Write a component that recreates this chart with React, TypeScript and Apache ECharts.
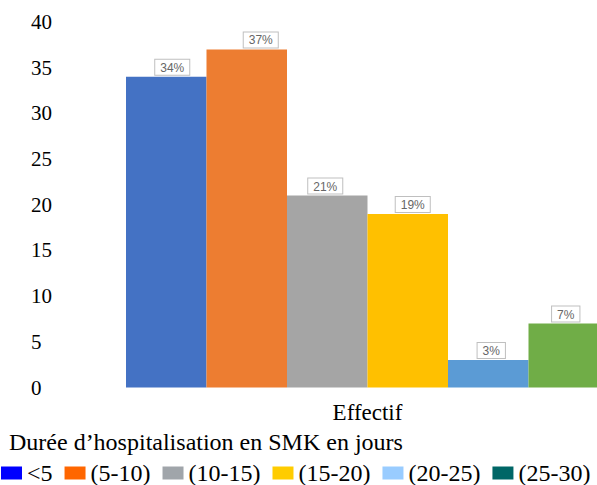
import React, { useEffect, useRef } from "react";
import * as echarts from "echarts";

const categories = ["Effectif"];
const seriesNames = ["<5", "(5-10)", "(10-15)", "(15-20)", "(20-25)", "(25-30)"];
const seriesValues = [34, 37, 21, 19, 3, 7];
const barColors = ["#4472C4", "#ED7D31", "#A5A5A5", "#FFC000", "#5B9BD5", "#70AD47"];
const legendColors = ["#0000FF", "#FF6600", "#A0A5AA", "#FFCC00", "#99CCFF", "#006666"];
const labelShiftX = [6, 14, -2, 5, 3, -3];
const yTicks = { min: 0, max: 40, interval: 5 };
const legendTitle = "Durée d’hospitalisation en SMK en jours";

const SERIF = "Liberation Serif";

export default function App() {
  const ref = useRef<HTMLDivElement>(null);
  useEffect(() => {
    if (!ref.current) return;
    const chart = echarts.init(ref.current, undefined, { renderer: "svg" });
    chart.setOption({
      animation: false,
      backgroundColor: "#ffffff",
      textStyle: { fontFamily: SERIF },
      title: {
        text: legendTitle,
        left: 9,
        top: 430,
        padding: 0,
        textStyle: { fontFamily: SERIF, fontSize: 24, fontWeight: "normal", color: "#000" },
      },
      legend: {
        left: 1,
        top: 461,
        padding: 0,
        itemWidth: 21,
        itemHeight: 13,
        itemGap: 12,
        icon: "rect",
        textStyle: { fontFamily: SERIF, fontSize: 24, color: "#000" },
        data: seriesNames.map((n, i) => ({
          name: n,
          itemStyle: { color: legendColors[i] },
          textStyle: { fontFamily: SERIF, fontSize: 24, color: "#000" },
        })),
      },
      grid: { left: 112, right: 0, top: 22, bottom: 97.5, containLabel: false },
      xAxis: {
        type: "category",
        data: categories,
        axisLine: { show: false },
        axisTick: { show: false },
        splitLine: { show: false },
        axisLabel: { fontFamily: SERIF, fontSize: 23, color: "#000", margin: 13 },
      },
      yAxis: {
        type: "value",
        min: yTicks.min,
        max: yTicks.max,
        interval: yTicks.interval,
        axisLine: { show: false },
        axisTick: { show: false },
        splitLine: { show: false },
        axisLabel: { fontFamily: SERIF, fontSize: 21, color: "#000", align: "left", margin: 81 },
      },
      series: seriesNames.map((name, i) => ({
        name,
        type: "bar",
        data: [seriesValues[i]],
        barWidth: 80.5,
        barGap: "0%",
        itemStyle: { color: barColors[i] },
        label: {
          show: true,
          position: "top",
          distance: 2,
          offset: [labelShiftX[i], 0],
          formatter: "{c}%",
          fontFamily: "Liberation Sans",
          fontSize: 12,
          color: "#666666",
          backgroundColor: "#ffffff",
          borderColor: "#BFBFBF",
          borderWidth: 1,
          padding: [2, 5, 1, 5],
        },
      })),
    });
    return () => chart.dispose();
  }, []);
  return (
    <div style={{ position: "fixed", left: 0, top: 0, width: 597, height: 485, overflow: "hidden" }}>
      <div ref={ref} style={{ width: 623, height: 485 }} />
    </div>
  );
}
